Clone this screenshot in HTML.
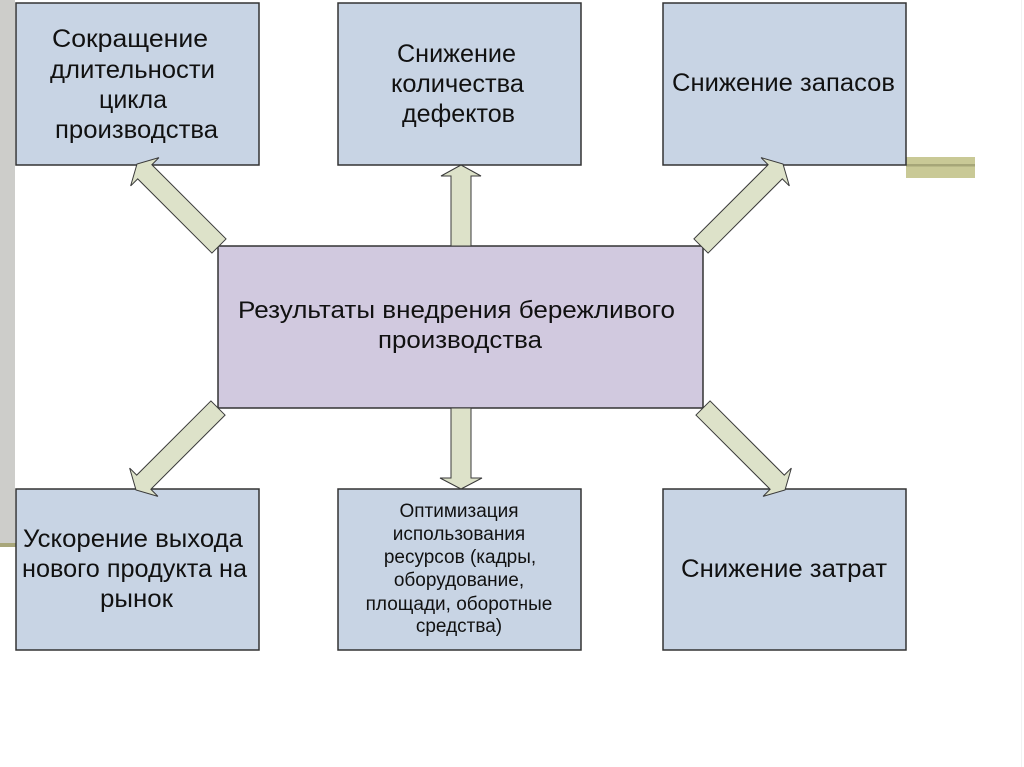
<!DOCTYPE html>
<html>
<head>
<meta charset="utf-8">
<style>
  html, body { margin:0; padding:0; background:#ffffff; }
  body { width:1024px; height:767px; overflow:hidden; }
  svg { display:block; }
  text { font-family: "Liberation Sans", "DejaVu Sans", sans-serif; fill:#111111; }
</style>
</head>
<body>
<svg width="1024" height="767" viewBox="0 0 1024 767" xmlns="http://www.w3.org/2000/svg">
  <rect x="0" y="0" width="1024" height="767" fill="#ffffff"/>

  <!-- left gray bar -->
  <rect x="0" y="0" width="15" height="543" fill="#cdcdca"/>
  <rect x="0" y="543" width="16" height="4" fill="#a8a67a"/>

  <!-- right olive decoration -->
  <rect x="906" y="157" width="69" height="21" fill="#c9c996"/>
  <rect x="906" y="164" width="69" height="2.5" fill="#a6a678"/>

  <!-- faint right edge -->
  <rect x="1021" y="0" width="1" height="767" fill="#f2f2f2"/>

  <!-- top boxes -->
  <rect x="16" y="3" width="243" height="162" fill="#c8d4e4" stroke="#333333" stroke-width="1.5"/>
  <rect x="338" y="3" width="243" height="162" fill="#c8d4e4" stroke="#333333" stroke-width="1.5"/>
  <rect x="663" y="3" width="243" height="162" fill="#c8d4e4" stroke="#333333" stroke-width="1.5"/>

  <!-- center box -->
  <rect x="218" y="246" width="485" height="162" fill="#d1c9df" stroke="#333333" stroke-width="1.5"/>

  <!-- bottom boxes -->
  <rect x="16" y="489" width="243" height="161" fill="#c8d4e4" stroke="#333333" stroke-width="1.5"/>
  <rect x="338" y="489" width="243" height="161" fill="#c8d4e4" stroke="#333333" stroke-width="1.5"/>
  <rect x="663" y="489" width="243" height="161" fill="#c8d4e4" stroke="#333333" stroke-width="1.5"/>

  <!-- arrows -->
  <g fill="#dde2c9" stroke="#3a3a3a" stroke-width="1" stroke-linejoin="miter">
    <polygon points="226.07,238.93 151.85,164.71 158.92,157.64 137,164 130.64,185.92 137.71,178.85 211.93,253.07"/>
    <polygon points="708.07,253.07 782.29,178.85 789.36,185.92 783,164 761.08,157.64 768.15,164.71 693.93,238.93"/>
    <polygon points="210.93,400.93 136.71,475.15 129.64,468.08 136,490 157.92,496.36 150.85,489.29 225.07,415.07"/>
    <polygon points="695.93,415.07 770.15,489.29 763.08,496.36 785,490 791.36,468.08 784.29,475.15 710.07,400.93"/>
    <polygon points="451,246 451,176 441,176 461,165 481,176 471,176 471,246"/>
    <polygon points="451,408 451,478 440,478 461,489 482,478 471,478 471,408"/>
  </g>

  <!-- Top-left text -->
  <g font-size="25">
    <text x="52" y="47" textLength="156" lengthAdjust="spacingAndGlyphs">Сокращение</text>
    <text x="50" y="78" textLength="165" lengthAdjust="spacingAndGlyphs">длительности</text>
    <text x="99" y="108" textLength="68" lengthAdjust="spacingAndGlyphs">цикла</text>
    <text x="55" y="138" textLength="163" lengthAdjust="spacingAndGlyphs">производства</text>
  </g>

  <!-- Top-middle text -->
  <g font-size="25">
    <text x="397" y="62" textLength="119" lengthAdjust="spacingAndGlyphs">Снижение</text>
    <text x="391" y="92" textLength="133" lengthAdjust="spacingAndGlyphs">количества</text>
    <text x="402" y="122" textLength="113" lengthAdjust="spacingAndGlyphs">дефектов</text>
  </g>

  <!-- Top-right text -->
  <text x="672" y="91" font-size="25" textLength="223" lengthAdjust="spacingAndGlyphs">Снижение запасов</text>

  <!-- Center text -->
  <g font-size="24">
    <text x="238" y="318" textLength="437" lengthAdjust="spacingAndGlyphs">Результаты внедрения бережливого</text>
    <text x="378" y="348" textLength="164" lengthAdjust="spacingAndGlyphs">производства</text>
  </g>

  <!-- Bottom-left text -->
  <g font-size="25">
    <text x="23" y="547" textLength="220" lengthAdjust="spacingAndGlyphs">Ускорение выхода</text>
    <text x="22" y="577" textLength="225" lengthAdjust="spacingAndGlyphs">нового продукта на</text>
    <text x="100" y="607" textLength="73" lengthAdjust="spacingAndGlyphs">рынок</text>
  </g>

  <!-- Bottom-middle text -->
  <g font-size="19" text-anchor="middle">
    <text x="459" y="517">Оптимизация</text>
    <text x="459" y="540">использования</text>
    <text x="460" y="563">ресурсов (кадры,</text>
    <text x="459" y="586">оборудование,</text>
    <text x="459" y="610">площади, оборотные</text>
    <text x="459" y="632">средства)</text>
  </g>

  <!-- Bottom-right text -->
  <text x="681" y="577" font-size="25" textLength="206" lengthAdjust="spacingAndGlyphs">Снижение затрат</text>
</svg>
</body>
</html>
